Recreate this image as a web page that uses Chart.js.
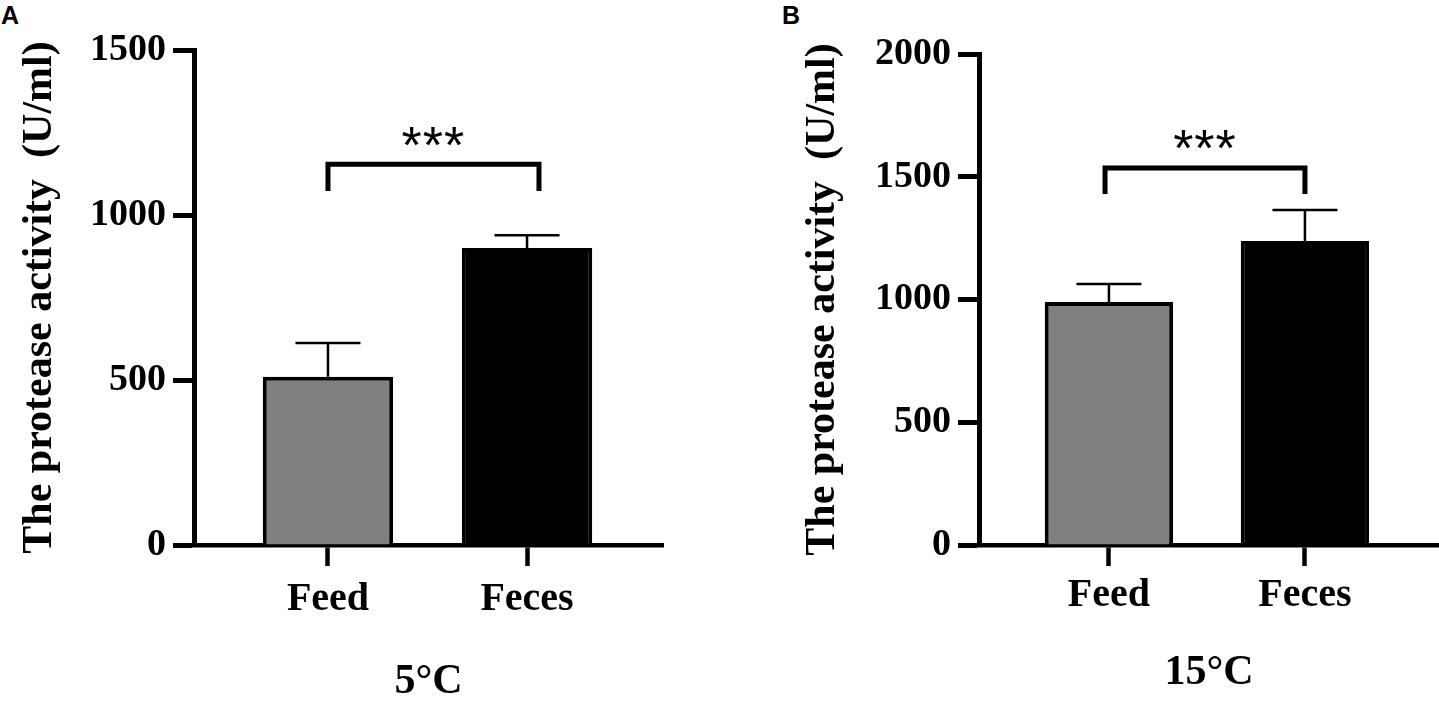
<!DOCTYPE html>
<html>
<head>
<meta charset="utf-8">
<script src="https://cdn.jsdelivr.net/npm/chart.js"></script>
<style>
  body { margin: 0; background: #fff; width: 1439px; height: 707px; overflow: hidden; position: relative; }
  canvas { position: absolute; top: 0; }
  #panelA { left: 0; }
  #panelB { left: 720px; }
  .tag { position: absolute; top: 3px; font: bold 25px/25px "Liberation Sans", Arial, sans-serif; color: #000; }
</style>
</head>
<body>
<div class="tag" style="left:1px">A</div>
<div class="tag" style="left:782px">B</div>
<canvas id="panelA" width="720" height="707"></canvas>
<canvas id="panelB" width="719" height="707"></canvas>
<script>
// groups, same for both panels
const categories = ['Feed', 'Feces'];
const catPos = [1, 2];
const barColors = ['#808080', '#000000'];

// 5°C
const meanA = [510, 900];
const sdA = [102, 39];
const yTicksA = [0, 500, 1000, 1500];
// bracket: left pos, right pos, top value, leg end value
const bracketA = [1, 2.06, 1154, 1073];
const starsA = 1245;

// 15°C
const meanB = [990, 1238];
const sdB = [73, 127];
const yTicksB = [0, 500, 1000, 1500, 2000];
const bracketB = [0.98, 2, 1536, 1430];
const starsB = 1662;

const serif = '"Liberation Serif", "Times New Roman", serif';

// error bars + significance bracket, drawn through the chart scales
function marksPlugin(mean, sd, bracket, starY) {
  return {
    id: 'marks',
    afterDatasetsDraw(chart) {
      const ctx = chart.ctx;
      const x = chart.scales.x, y = chart.scales.y;
      ctx.save();
      ctx.strokeStyle = '#000';
      ctx.lineWidth = 2.5;
      for (let i = 0; i < mean.length; i++) {
        const px = x.getPixelForValue(catPos[i]);
        const top = y.getPixelForValue(mean[i] + sd[i]);
        ctx.beginPath();
        ctx.moveTo(px, y.getPixelForValue(mean[i]));
        ctx.lineTo(px, top);
        ctx.moveTo(px - 32.5, top);
        ctx.lineTo(px + 32.5, top);
        ctx.stroke();
      }
      // bracket
      const xl = x.getPixelForValue(bracket[0]), xr = x.getPixelForValue(bracket[1]);
      const yt = y.getPixelForValue(bracket[2]), yl = y.getPixelForValue(bracket[3]);
      ctx.lineWidth = 5;
      ctx.lineJoin = 'miter';
      ctx.beginPath();
      ctx.moveTo(xl, yl);
      ctx.lineTo(xl, yt);
      ctx.lineTo(xr, yt);
      ctx.lineTo(xr, yl);
      ctx.stroke();
      // stars
      ctx.fillStyle = '#000';
      ctx.font = '52px "Liberation Sans", Arial, sans-serif';
      ctx.letterSpacing = '1px';
      ctx.textAlign = 'center';
      ctx.textBaseline = 'alphabetic';
      ctx.fillText('***', (xl + xr) / 2, y.getPixelForValue(starY) + 0.56 * 52);
      ctx.restore();
    }
  };
}

function panel(id, mean, sd, yTicks, bracket, starY, o) {
  return new Chart(document.getElementById(id), {
    type: 'bar',
    data: {
      datasets: [{
        data: catPos.map((p, i) => ({ x: p, y: mean[i] })),
        backgroundColor: barColors,
        borderColor: '#000',
        borderWidth: 4,
        categoryPercentage: 1,
        barPercentage: 0.655
      }]
    },
    options: {
      responsive: false,
      animation: false,
      layout: { padding: { top: o.top, right: o.right, left: 0, bottom: 0 } },
      plugins: { legend: { display: false }, tooltip: { enabled: false } },
      scales: {
        x: {
          type: 'linear',
          min: o.xmin,
          max: o.xmax,
          offset: false,
          afterBuildTicks: s => { s.ticks = catPos.map(v => ({ value: v })); },
          afterFit: s => { s.height = 707 - 545; },
          ticks: {
            callback: v => categories[catPos.indexOf(v)],
            font: { family: serif, size: 40, weight: 'bold' },
            color: '#000',
            padding: o.xpad,
            maxRotation: 0,
            autoSkip: false
          },
          grid: { offset: false, drawOnChartArea: false, drawTicks: true, tickLength: 21, tickWidth: 4.5, tickColor: '#000' },
          border: { display: true, width: 4.5, color: '#000' },
          title: {
            display: true,
            text: o.xtitle,
            font: { family: serif, size: 42, weight: 'bold' },
            color: '#000',
            padding: { top: 0, bottom: o.xtpad }
          }
        },
        y: {
          min: 0,
          max: yTicks[yTicks.length - 1],
          afterBuildTicks: s => { s.ticks = yTicks.map(v => ({ value: v })); },
          afterFit: s => { s.width = o.yw; },
          ticks: {
            callback: v => String(v),
            font: { family: serif, size: 38, weight: 'bold' },
            color: '#000',
            padding: 7
          },
          grid: { drawOnChartArea: false, drawTicks: true, tickLength: 21, tickWidth: 5, tickColor: '#000' },
          border: { display: true, width: 5, color: '#000' },
          title: {
            display: true,
            text: 'The protease activity  (U/ml)',
            font: { family: serif, size: 42, weight: 'bold' },
            color: '#000',
            padding: { top: o.ytpad, bottom: 0 }
          }
        }
      }
    },
    plugins: [marksPlugin(mean, sd, bracket, starY)]
  });
}

panel('panelA', meanA, sdA, yTicksA, bracketA, starsA,
  { top: 50, right: 57, yw: 194, xmin: 0.327, xmax: 2.683, xpad: 10, xtpad: 0, ytpad: 15, xtitle: '5°C' });
panel('panelB', meanB, sdB, yTicksB, bracketB, starsB,
  { top: 54, right: 0, yw: 259, xmin: 0.337, xmax: 2.684, xpad: 6, xtpad: 9, ytpad: 78, xtitle: '15°C' });
</script>
</body>
</html>
